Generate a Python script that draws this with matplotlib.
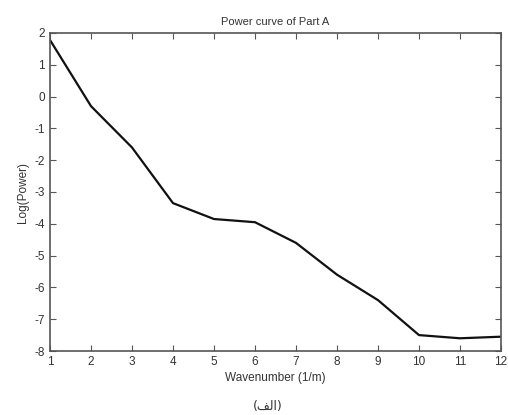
import numpy as np
import matplotlib.pyplot as plt

wavenumber = [1, 2, 3, 4, 5, 6, 7, 8, 9, 10, 11, 12]
log_power = [1.78, -0.3, -1.6, -3.35, -3.85, -3.95, -4.6, -5.6, -6.4, -7.5, -7.6, -7.55]

plt.rcParams['font.family'] = ['Liberation Sans', 'DejaVu Sans']
plt.rcParams['axes.unicode_minus'] = False

fig = plt.figure(figsize=(5.08, 4.15), dpi=100)
ax = fig.add_axes([50 / 508, 1 - 351 / 415, 451 / 508, 318 / 415])
ax.plot(wavenumber, log_power, color='#111111', linewidth=1.6)
ax.set_xlim(1, 12)
ax.set_ylim(-8, 2)
ax.set_xticks(range(1, 13))
ax.set_yticks(range(-8, 3))
ax.tick_params(direction='in', top=True, right=True, labelsize=8.5, colors='#555555',
               labelcolor='#333333', length=4)
for s in ax.spines.values():
    s.set_color('#555555')
    s.set_linewidth(1.2)
ax.set_title('Power curve of Part A', fontsize=8, color='#333333', pad=6)
ax.set_xlabel('Wavenumber (1/m)', fontsize=8.5, color='#333333', labelpad=3)
ax.set_ylabel('Log(Power)', fontsize=8.5, color='#333333', labelpad=4)
fig.text(268 / 508, 1 - 406 / 415, '(\uFED2\uFEDF\uFE8D)', fontsize=9, color='#333333',
         ha='center', va='center', family=['DejaVu Sans'])

fig.savefig('out.png', dpi=100)
